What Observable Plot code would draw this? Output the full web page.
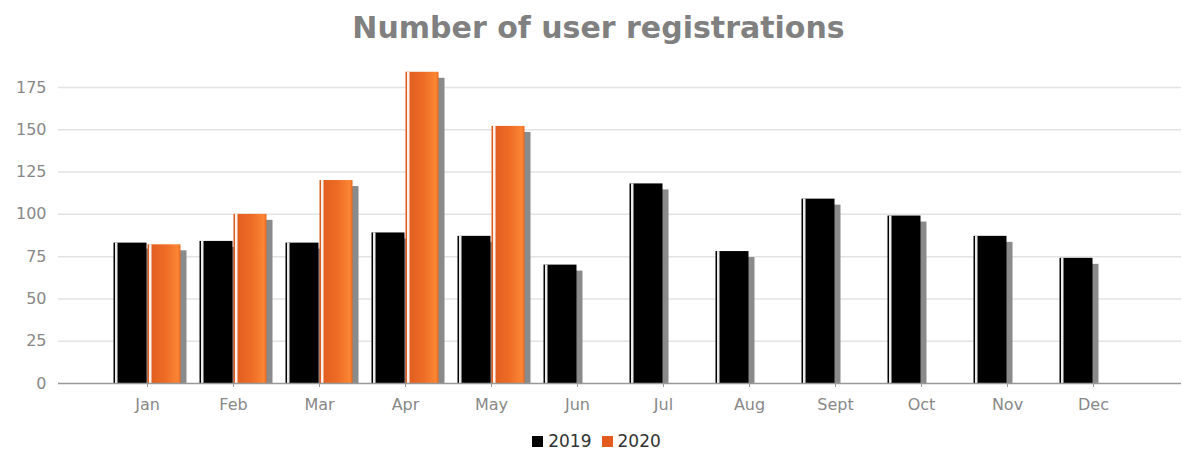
<!DOCTYPE html>
<html>
<head>
<meta charset="utf-8">
<script src="https://cdn.jsdelivr.net/npm/d3@7"></script>
<script src="https://cdn.jsdelivr.net/npm/@observablehq/plot@0.6"></script>
<style>
  body { margin: 0; background: #fff; font-family: "DejaVu Sans", sans-serif; }
  #wrap { width: 1183px; }
  #title { height: 56px; line-height: 56px; text-align: center; font-weight: bold; font-size: 30px; color: #808080; padding-left: 14px; box-sizing: border-box; }
  #legend { display: flex; justify-content: center; align-items: center; gap: 10px; height: 30px; margin-top: 10px; padding-left: 10px; font-size: 17px; color: #333; }
  .item { display: flex; align-items: center; gap: 5px; }
  .sw { width: 11px; height: 11px; display: inline-block; }
</style>
</head>
<body>
<div id="wrap">
  <div id="title">Number of user registrations</div>
  <div id="chart"></div>
  <div id="legend"></div>
</div>
<script>
const months = ["Jan","Feb","Mar","Apr","May","Jun","Jul","Aug","Sept","Oct","Nov","Dec"];
const years = ["2019", "2020"];
const v2019 = [83, 84, 83, 89, 87, 70, 118, 78, 109, 99, 87, 74];
const v2020 = [82, 100, 120, 184, 152, null, null, null, null, null, null, null];
const yTicks = [0, 25, 50, 75, 100, 125, 150, 175];
const colors = {"2019": "#000000", "2020": "#e25a1c"};

const d19 = months.map((m, i) => ({month: m, year: "2019", value: v2019[i]}));
const d20 = months.map((m, i) => ({month: m, year: "2020", value: v2020[i]})).filter(d => d.value != null);

const defs = () => {
  const g = d3.create("svg:defs");
  const lg = g.append("linearGradient").attr("id", "orangeGrad").attr("x1", "0").attr("x2", "1").attr("y1", "0").attr("y2", "0");
  lg.append("stop").attr("offset", "0%").attr("stop-color", "#df5a1e");
  lg.append("stop").attr("offset", "55%").attr("stop-color", "#ee6c26");
  lg.append("stop").attr("offset", "92%").attr("stop-color", "#fb8634");
  lg.append("stop").attr("offset", "100%").attr("stop-color", "#e8661f");
  return g.node();
};

const bw = 34;
const half = 17;
function series(data, fill, dx) {
  return [
    Plot.barY(data, {x: "month", y: "value", fill, dx, insetLeft: 0.5, insetRight: 0.5}),
    Plot.barY(data, {x: "month", y: "value", fill: "white", fillOpacity: 0.92, dx, insetLeft: 2, insetRight: bw - 4.5})
  ];
}
function shadow(data, dx) {
  return Plot.barY(data, {x: "month", y: "value", fill: "#8a8a8a", dx: dx + 6, insetTop: 6, insetLeft: 0.5, insetRight: 0.5});
}

const chart = Plot.plot({
  width: 1183,
  height: 360,
  marginLeft: 58,
  marginRight: 2,
  marginTop: 31,
  marginBottom: 33,
  style: {fontFamily: "DejaVu Sans, sans-serif", fontSize: "16px", color: "#888888", background: "white"},
  x: {domain: months, range: [104, 1136], paddingInner: 0.605, paddingOuter: 0.3025, align: 0.5, label: null},
  y: {domain: [0, 175], label: null},
  marks: [
    defs,
    Plot.ruleY(yTicks.filter(t => t > 0), {stroke: "#e3e3e3", strokeWidth: 1.5}),
    shadow(d19, -half),
    shadow(d20, half),
    ...series(d19, colors["2019"], -half),
    ...series(d20, "url(#orangeGrad)", half),
    Plot.ruleY([0], {stroke: "#999999", strokeWidth: 1.5}),
    Plot.axisY({ticks: yTicks, tickSize: 0, tickPadding: 12, fill: "#888888", label: null}),
    Plot.axisX({tickSize: 4, tickPadding: 11, stroke: "#999999", fill: "#888888", label: null})
  ]
});
document.getElementById("chart").appendChild(chart);

const legend = document.getElementById("legend");
years.forEach(y => {
  const it = document.createElement("span");
  it.className = "item";
  const sw = document.createElement("span");
  sw.className = "sw";
  sw.style.background = colors[y];
  const tx = document.createElement("span");
  tx.textContent = y;
  it.appendChild(sw);
  it.appendChild(tx);
  legend.appendChild(it);
});
</script>
</body>
</html>
